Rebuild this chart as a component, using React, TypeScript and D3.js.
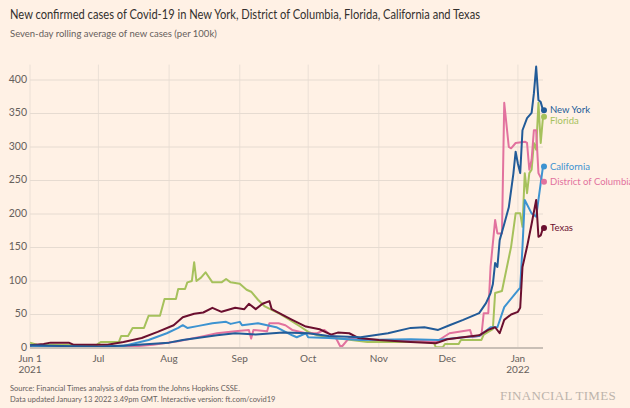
import React from "react";
import * as d3 from "d3";

type Pt = [string, number];

const titleText =
  "New confirmed cases of Covid-19 in New York, District of Columbia, Florida, California and Texas";
const subtitleText = "Seven-day rolling average of new cases (per 100k)";
const sourceLine1 = "Source: Financial Times analysis of data from the Johns Hopkins CSSE.";
const sourceLine2 = "Data updated January 13 2022 3.49pm GMT. Interactive version: ft.com/covid19";

const yTicks = [0, 50, 100, 150, 200, 250, 300, 350, 400];
const xTickDates = ["2021-06-01", "2021-07-01", "2021-08-01", "2021-09-01", "2021-10-01", "2021-11-01", "2021-12-01", "2022-01-01"];
const xTickLine1 = ["Jun 1", "Jul", "Aug", "Sep", "Oct", "Nov", "Dec", "Jan"];
const xTickLine2 = ["2021", "", "", "", "", "", "", "2022"];

const florida: Pt[] = [
  ["2021-06-01", 8], ["2021-06-04", 5], ["2021-06-30", 4], ["2021-07-02", 9], ["2021-07-10", 9],
  ["2021-07-11", 18], ["2021-07-14", 18], ["2021-07-16", 30], ["2021-07-21", 30], ["2021-07-23", 48],
  ["2021-07-28", 48], ["2021-07-30", 73], ["2021-08-04", 73], ["2021-08-05", 88], ["2021-08-08", 88],
  ["2021-08-09", 98], ["2021-08-11", 100], ["2021-08-12", 128], ["2021-08-13", 100], ["2021-08-15", 105],
  ["2021-08-17", 113], ["2021-08-20", 98], ["2021-08-24", 98], ["2021-08-26", 103], ["2021-08-28", 98],
  ["2021-09-01", 96], ["2021-09-04", 87], ["2021-09-06", 84], ["2021-09-09", 72], ["2021-09-12", 62],
  ["2021-09-15", 57], ["2021-09-18", 52], ["2021-09-21", 46], ["2021-09-28", 31], ["2021-10-01", 24],
  ["2021-10-05", 19], ["2021-10-10", 16], ["2021-10-20", 12], ["2021-10-27", 9], ["2021-11-25", 9],
  ["2021-11-26", 1], ["2021-11-29", 1], ["2021-11-30", 6], ["2021-12-06", 6], ["2021-12-07", 12],
  ["2021-12-16", 12], ["2021-12-17", 20], ["2021-12-21", 28], ["2021-12-22", 82], ["2021-12-25", 85],
  ["2021-12-29", 151], ["2021-12-31", 201], ["2022-01-02", 201], ["2022-01-03", 181], ["2022-01-04", 261],
  ["2022-01-05", 231], ["2022-01-06", 261], ["2022-01-07", 266], ["2022-01-08", 306], ["2022-01-09", 296],
  ["2022-01-10", 366], ["2022-01-11", 306], ["2022-01-12", 345],
];

const districtOfColumbia: Pt[] = [
  ["2021-06-01", 1], ["2021-06-15", 1], ["2021-07-01", 1], ["2021-07-15", 2], ["2021-07-25", 5],
  ["2021-08-05", 10], ["2021-08-15", 17], ["2021-08-22", 22], ["2021-08-30", 25], ["2021-09-05", 27],
  ["2021-09-06", 14], ["2021-09-07", 27], ["2021-09-13", 25], ["2021-09-14", 37], ["2021-09-18", 37],
  ["2021-09-21", 34], ["2021-09-24", 27], ["2021-09-30", 22], ["2021-10-05", 22], ["2021-10-08", 27],
  ["2021-10-10", 22], ["2021-10-13", 16], ["2021-10-15", 3], ["2021-10-16", 3], ["2021-10-19", 15],
  ["2021-11-01", 12], ["2021-11-15", 12], ["2021-11-26", 9], ["2021-12-02", 22], ["2021-12-11", 27],
  ["2021-12-12", 16], ["2021-12-16", 19], ["2021-12-17", 52], ["2021-12-19", 52], ["2021-12-20", 121],
  ["2021-12-22", 191], ["2021-12-23", 171], ["2021-12-25", 171], ["2021-12-26", 366], ["2021-12-28", 300],
  ["2021-12-29", 298], ["2021-12-31", 306], ["2022-01-04", 308], ["2022-01-05", 306], ["2022-01-06", 266],
  ["2022-01-07", 281], ["2022-01-08", 325], ["2022-01-09", 325], ["2022-01-10", 261], ["2022-01-12", 248],
];

const california: Pt[] = [
  ["2021-06-01", 2], ["2021-06-15", 2], ["2021-07-01", 2], ["2021-07-12", 3], ["2021-07-23", 12],
  ["2021-07-31", 22], ["2021-08-05", 30], ["2021-08-07", 34], ["2021-08-09", 30], ["2021-08-14", 33],
  ["2021-08-20", 37], ["2021-08-26", 39], ["2021-08-28", 36], ["2021-09-01", 39], ["2021-09-02", 34],
  ["2021-09-09", 37], ["2021-09-17", 31], ["2021-09-24", 19], ["2021-09-26", 16], ["2021-09-30", 22],
  ["2021-10-01", 16], ["2021-10-10", 15], ["2021-10-24", 12], ["2021-11-15", 13], ["2021-11-27", 12],
  ["2021-12-08", 16], ["2021-12-15", 18], ["2021-12-20", 31], ["2021-12-23", 31], ["2021-12-26", 61],
  ["2021-12-31", 82], ["2022-01-02", 90], ["2022-01-03", 151], ["2022-01-04", 221], ["2022-01-07", 201],
  ["2022-01-09", 196], ["2022-01-10", 221], ["2022-01-12", 271],
];

const texas: Pt[] = [
  ["2021-06-01", 4], ["2021-06-07", 6], ["2021-06-10", 8], ["2021-06-18", 8], ["2021-06-20", 5],
  ["2021-07-05", 5], ["2021-07-12", 9], ["2021-07-20", 15], ["2021-07-27", 24], ["2021-08-03", 34],
  ["2021-08-07", 46], ["2021-08-12", 51], ["2021-08-16", 53], ["2021-08-20", 60], ["2021-08-24", 54],
  ["2021-08-30", 60], ["2021-09-03", 58], ["2021-09-05", 66], ["2021-09-08", 58], ["2021-09-11", 66],
  ["2021-09-14", 70], ["2021-09-15", 58], ["2021-09-20", 49], ["2021-09-24", 42], ["2021-09-30", 32],
  ["2021-10-06", 28], ["2021-10-11", 20], ["2021-10-14", 23], ["2021-10-19", 22], ["2021-10-23", 15],
  ["2021-11-01", 12], ["2021-11-15", 9], ["2021-11-26", 7], ["2021-12-01", 13], ["2021-12-08", 16],
  ["2021-12-15", 19], ["2021-12-19", 27], ["2021-12-22", 31], ["2021-12-24", 22], ["2021-12-26", 42],
  ["2021-12-29", 50], ["2022-01-01", 54], ["2022-01-02", 60], ["2022-01-03", 121], ["2022-01-05", 151],
  ["2022-01-07", 185], ["2022-01-09", 221], ["2022-01-10", 166], ["2022-01-11", 168], ["2022-01-12", 179],
];

const newYork: Pt[] = [
  ["2021-06-01", 4], ["2021-06-15", 3], ["2021-07-01", 2], ["2021-07-15", 4], ["2021-08-01", 8],
  ["2021-08-07", 12], ["2021-08-22", 19], ["2021-08-30", 22], ["2021-09-08", 20], ["2021-09-20", 23],
  ["2021-10-01", 22], ["2021-10-10", 18], ["2021-10-24", 16], ["2021-11-05", 22], ["2021-11-15", 30],
  ["2021-11-21", 31], ["2021-11-27", 27], ["2021-12-02", 34], ["2021-12-08", 42], ["2021-12-15", 52],
  ["2021-12-18", 67], ["2021-12-20", 82], ["2021-12-21", 95], ["2021-12-22", 127], ["2021-12-23", 121],
  ["2021-12-24", 161], ["2021-12-26", 185], ["2021-12-28", 210], ["2021-12-30", 260], ["2021-12-31", 293],
  ["2022-01-01", 275], ["2022-01-02", 261], ["2022-01-03", 325], ["2022-01-05", 343], ["2022-01-07", 351],
  ["2022-01-08", 380], ["2022-01-09", 420], ["2022-01-10", 370], ["2022-01-11", 367], ["2022-01-12", 355],
];

const seriesNames = ["Florida", "District of Columbia", "California", "Texas", "New York"];
const seriesData = [florida, districtOfColumbia, california, texas, newYork];
const seriesColors = ["#a6c15c", "#e2729e", "#3d93d1", "#6b0f2f", "#225b98"];

const W = 630;
const H = 408;
const FONT = "Lato, 'Open Sans', sans-serif";

export default function App() {
  const parse = d3.timeParse("%Y-%m-%d");
  const x = d3
    .scaleTime()
    .domain([parse("2021-06-01") as Date, parse("2022-01-12") as Date])
    .range([30, 543]);
  const y = d3.scaleLinear().domain([0, 400]).range([348, 80]);
  const line = d3
    .line<Pt>()
    .x((d) => x(parse(d[0]) as Date))
    .y((d) => y(d[1]));

  const ends = seriesNames.map((n, i) => {
    const last = seriesData[i][seriesData[i].length - 1];
    return { name: n, color: seriesColors[i], cx: x(parse(last[0]) as Date), cy: y(last[1]), ly: y(last[1]) };
  });
  const sorted = [...ends].sort((a, b) => a.cy - b.cy);
  for (let i = 1; i < sorted.length; i++) {
    if (sorted[i].ly - sorted[i - 1].ly < 11) sorted[i].ly = sorted[i - 1].ly + 11;
  }

  const plotTop = y(420) - 2;

  return (
    <div style={{ position: "absolute", left: 0, top: 0, width: W, height: H, background: "#fff1e5", overflow: "hidden" }}>
      <svg width={W} height={H} style={{ display: "block" }} fontFamily={FONT}>
        <rect x={0} y={0} width={W} height={H} fill="#fff1e5" />
        <text x={10} y={19} fontSize={13} fill="#33302e" textLength={470} lengthAdjust="spacingAndGlyphs">
          {titleText}
        </text>
        <text x={10} y={37} fontSize={9.5} fill="#66605c">
          {subtitleText}
        </text>

        {xTickDates.map((d) => (
          <line key={"vg" + d} x1={x(parse(d) as Date)} x2={x(parse(d) as Date)} y1={plotTop} y2={y(0)} stroke="#ebe0d6" strokeWidth={1} />
        ))}
        {yTicks.map((t) => (
          <g key={"yt" + t}>
            {t > 0 && <line x1={30} x2={543} y1={y(t)} y2={y(t)} stroke="#e6dbd1" strokeWidth={1} />}
            <text x={27} y={y(t) - 1} dy="0.35em" textAnchor="end" fontSize={10.5} fill="#66605c">
              {t}
            </text>
          </g>
        ))}

        {seriesData.map((s, i) => (
          <path key={seriesNames[i]} d={line(s) || ""} fill="none" stroke={seriesColors[i]} strokeWidth={2} strokeLinejoin="round" />
        ))}

        <line x1={30} x2={543} y1={y(0)} y2={y(0)} stroke="#c9bfb6" strokeWidth={2} />

        {xTickDates.map((d, i) => (
          <g key={"xt" + d}>
            <text x={x(parse(d) as Date)} y={362} textAnchor="middle" fontSize={10} fill="#66605c">
              {xTickLine1[i]}
            </text>
            {xTickLine2[i] && (
              <text x={x(parse(d) as Date)} y={373} textAnchor="middle" fontSize={10} fill="#66605c">
                {xTickLine2[i]}
              </text>
            )}
          </g>
        ))}

        {ends.map((e) => (
          <g key={"end" + e.name}>
            <circle cx={e.cx + 1} cy={e.cy} r={3} fill={e.color} />
            <text x={e.cx + 7} y={e.ly} dy="0.35em" fontSize={9.5} fill={e.color}>
              {e.name}
            </text>
          </g>
        ))}

        <text x={10} y={391} fontSize={7.5} fill="#66605c">
          {sourceLine1}
        </text>
        <text x={10} y={402} fontSize={7.5} fill="#66605c">
          {sourceLine2}
        </text>
        <text x={616} y={400} textAnchor="end" fontSize={13} fill="#bdb4ac" fontFamily="'Liberation Serif', 'DejaVu Serif', serif" letterSpacing={0.3}>
          FINANCIAL TIMES
        </text>
      </svg>
    </div>
  );
}
